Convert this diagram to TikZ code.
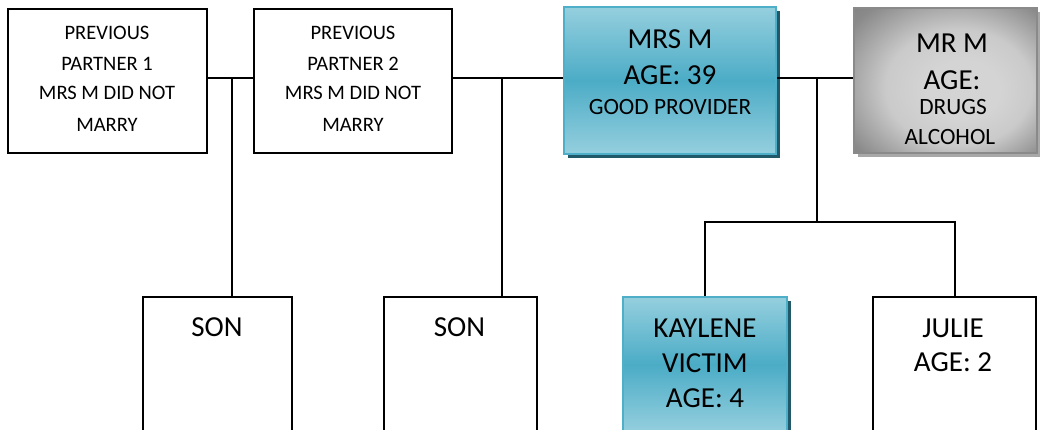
\documentclass[tikz,border=0pt]{standalone}
\usepackage{fontspec}
\setmainfont{Carlito}
\usetikzlibrary{shadows}
\definecolor{bluelt}{HTML}{95CFDE}
\definecolor{bluedk}{HTML}{4BACC6}
\definecolor{blueedge}{HTML}{4FAEC8}
\definecolor{blueshadow}{HTML}{215968}
\definecolor{gA}{HTML}{D4D4D4}
\definecolor{gB}{HTML}{CACACA}
\definecolor{gC}{HTML}{8A8A8A}
\definecolor{gD}{HTML}{6E6E6E}
\definecolor{gEdge}{HTML}{8A8A8A}
\definecolor{gShadow}{HTML}{A8A8A8}
\pgfdeclareradialshading{mrmshade}{\pgfpoint{6bp}{-4bp}}{color(0bp)=(gA); color(10bp)=(gA); color(20bp)=(gB); color(34bp)=(gC); color(50bp)=(gD)}
\tikzset{
  plainbox/.style={draw=black, line width=1.5pt, fill=white, inner sep=0pt},
  bluebox/.style={draw=blueedge, line width=1.5pt, inner sep=0pt,
    top color=bluelt, bottom color=bluelt, middle color=bluedk,
    drop shadow={shadow xshift=3pt, shadow yshift=-3pt, fill=blueshadow, opacity=1}},
  graybox/.style={draw=gEdge, line width=1pt, inner sep=0pt,
    shading=mrmshade,
    drop shadow={shadow xshift=3pt, shadow yshift=-3pt, fill=gShadow, opacity=1}},
  conn/.style={draw=black, line width=1.5pt},
  tbig/.style={inner sep=0pt, anchor=center, font=\fontsize{21.75}{26}\selectfont},
  tmid/.style={inner sep=0pt, anchor=center, font=\fontsize{17.5}{21}\selectfont},
  tsmall/.style={inner sep=0pt, anchor=center, font=\fontsize{15.4}{18}\selectfont},
}
\begin{document}
\begin{tikzpicture}[x=0.75pt, y=-0.75pt]
\useasboundingbox (0,0) rectangle (1040,429);
\clip (0,0) rectangle (1040,429);
\fill[white] (0,0) rectangle (1040,429);

% boxes
\node[plainbox, minimum width=149.25pt, minimum height=108pt] (p1) at (107.5,81) {};
\node[plainbox, minimum width=148.5pt, minimum height=108pt] (p2) at (353,81) {};
\node[bluebox, minimum width=159pt, minimum height=110.25pt] (mrs) at (670,80.5) {};
\node[graybox, minimum width=137.25pt, minimum height=108.75pt] (mrm) at (945.5,80.5) {};
\node[plainbox, minimum width=111.75pt, minimum height=101.25pt] (son1) at (217.5,364.5) {};
\node[plainbox, minimum width=114.75pt, minimum height=101.25pt] (son2) at (460.5,364.5) {};
\node[bluebox, minimum width=123pt, minimum height=101.25pt] (kay) at (705,364.5) {};
\node[plainbox, minimum width=122.25pt, minimum height=101.25pt] (jul) at (954.5,364.5) {};

% texts
\node[tsmall] (p1a) at (107,33) {PREVIOUS};
\node[tsmall] (p1b) at (107,64) {PARTNER 1};
\node[tsmall] (p1c) at (107,93) {MRS M DID NOT};
\node[tsmall] (p1d) at (107,125) {MARRY};
\node[tsmall] (p2a) at (353,33) {PREVIOUS};
\node[tsmall] (p2b) at (353,64) {PARTNER 2};
\node[tsmall] (p2c) at (353,93) {MRS M DID NOT};
\node[tsmall] (p2d) at (353,125) {MARRY};
\node[tbig] (mrsa) at (670,39) {MRS M};
\node[tbig] (mrsb) at (670,75) {AGE: 39};
\node[tmid] (mrsc) at (670,107) {GOOD PROVIDER};
\node[tbig] (mrma) at (952,43) {MR M};
\node[tbig] (mrmb) at (952,80) {AGE:};
\node[tmid] (mrmc) at (953,107) {DRUGS};
\node[tmid] (mrmd) at (950,137) {ALCOHOL};
\node[tbig] (son1t) at (217,327) {SON};
\node[tbig] (son2t) at (459.5,327) {SON};
\node[tbig] (kaya) at (705,328) {KAYLENE};
\node[tbig] (kayb) at (705,363) {VICTIM};
\node[tbig] (kayc) at (705,398) {AGE: 4};
\node[tbig] (jula) at (953,328) {JULIE};
\node[tbig] (julb) at (953,362) {AGE: 2};

% connectors
\coordinate (j1) at (232,78);
\coordinate (j2) at (502,78);
\coordinate (j3) at (817,78);
\coordinate (j4) at (817,222);
\draw[conn] (p1.east |- j1) -- (p2.west |- j1);
\draw[conn] (j1) -- (j1 |- son1.north);
\draw[conn] (p2.east |- j2) -- (mrs.west |- j2);
\draw[conn] (j2) -- (j2 |- son2.north);
\draw[conn] (mrs.east |- j3) -- (mrm.west |- j3);
\draw[conn] (j3) -- (j4);
\draw[conn] (kay.north) -- (kay.north |- j4) -- (jul.north |- j4) -- (jul.north);
\end{tikzpicture}
\end{document}
